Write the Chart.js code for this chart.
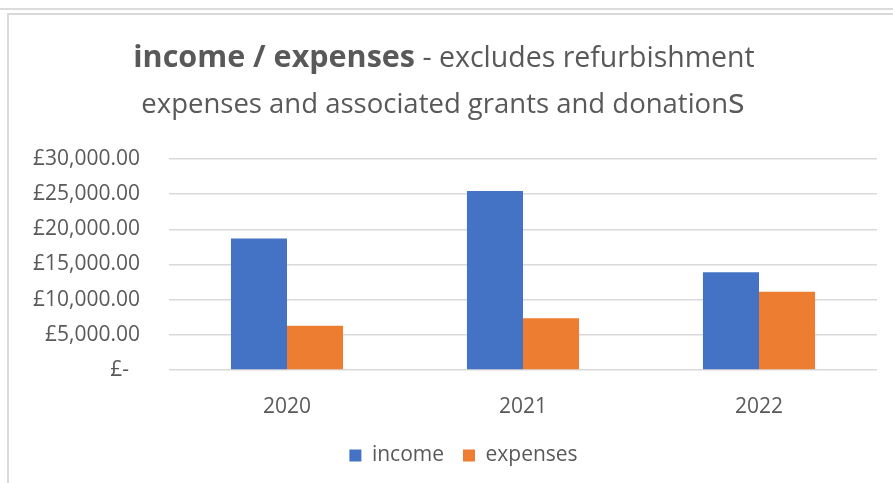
<!DOCTYPE html>
<html>
<head>
<meta charset="utf-8">
<script src="https://cdn.jsdelivr.net/npm/chart.js@4"></script>
<style>
  html, body { margin: 0; padding: 0; background: #fff; }
  #wrap { position: relative; width: 893px; height: 483px; overflow: hidden; }
  #topline { position: absolute; left: 0; top: 8px; width: 893px; height: 0; border-top: 2px solid #dcdcdc; }
  #frame { position: absolute; left: 7px; top: 13px; width: 900px; height: 500px; border-top: 2px solid #d9d9d9; border-left: 2px solid #d9d9d9; }
  canvas { position: absolute; left: 0; top: 0; }
</style>
</head>
<body>
<div id="wrap">
  <div id="topline"></div>
  <div id="frame"></div>
  <canvas id="incomeChart" width="893" height="483"></canvas>
</div>
<script>
const years = ["2020", "2021", "2022"];
const income = [18700, 25450, 13900];
const expenses = [6300, 7350, 11130];
const yTickValues = [0, 5000, 10000, 15000, 20000, 25000, 30000];
const yTickLabels = ["£-  ", "£5,000.00", "£10,000.00", "£15,000.00", "£20,000.00", "£25,000.00", "£30,000.00"];

// title pieces: [text, bold, font size]
const titleLine1 = [["income / expenses", true, 30.5], [" - excludes refurbishment", false, 28.5]];
const titleLine2 = [["expenses and associated grants and donation", false, 27.5], ["s", false, 35]];

const FONT = "'Open Sans', sans-serif";
const TEXT = "#595959";

const titlePlugin = {
    id: "mixedTitle",
    afterLayout(chart) {
        // legend sits a bit right of the canvas centre in the original
        chart.legend.left += 25;
        chart.legend.right += 25;
    },
    afterDraw(chart) {
        const ctx = chart.ctx;
        const drawLine = (parts, cx, y) => {
            let total = 0;
            parts.forEach(([t, b, s]) => {
                ctx.font = `${b ? "bold " : ""}${s}px ${FONT}`;
                total += ctx.measureText(t).width;
            });
            let x = cx - total / 2;
            parts.forEach(([t, b, s]) => {
                ctx.font = `${b ? "bold " : ""}${s}px ${FONT}`;
                ctx.fillText(t, x, y);
                x += ctx.measureText(t).width;
            });
        };
        ctx.save();
        ctx.fillStyle = TEXT;
        ctx.textBaseline = "alphabetic";
        ctx.textAlign = "left";
        drawLine(titleLine1, 444, 67);
        drawLine(titleLine2, 443, 113);
        ctx.restore();
    }
};

new Chart(document.getElementById("incomeChart").getContext("2d"), {
    type: "bar",
    data: {
        labels: years,
        datasets: [
            { label: "income", data: income, backgroundColor: "#4472C4" },
            { label: "expenses", data: expenses, backgroundColor: "#ED7D31" }
        ]
    },
    options: {
        responsive: false,
        animation: false,
        layout: { padding: { top: 159, right: 16, left: 0, bottom: 7 } },
        datasets: { bar: { categoryPercentage: 0.475, barPercentage: 1.0 } },
        plugins: {
            title: { display: false },
            tooltip: { enabled: false },
            legend: {
                position: "bottom",
                labels: {
                    boxWidth: 12,
                    boxHeight: 12,
                    padding: 19,
                    color: TEXT,
                    font: { family: FONT, size: 21 }
                }
            }
        },
        scales: {
            x: {
                grid: { display: false },
                border: { display: false },
                ticks: { color: TEXT, padding: 16, font: { family: FONT, size: 21 } },
                afterFit: (s) => { s.height = 56; }
            },
            y: {
                min: 0,
                max: 30000,
                afterBuildTicks: (s) => { s.ticks = yTickValues.map((v) => ({ value: v })); },
                grid: { color: "#d9d9d9", lineWidth: 1.5, drawTicks: false },
                border: { display: false },
                ticks: {
                    color: TEXT,
                    padding: 29,
                    font: { family: FONT, size: 21 },
                    callback: (v) => yTickLabels[yTickValues.indexOf(v)]
                },
                afterFit: (s) => { s.width = 169; }
            }
        }
    },
    plugins: [titlePlugin]
});
</script>
</body>
</html>
